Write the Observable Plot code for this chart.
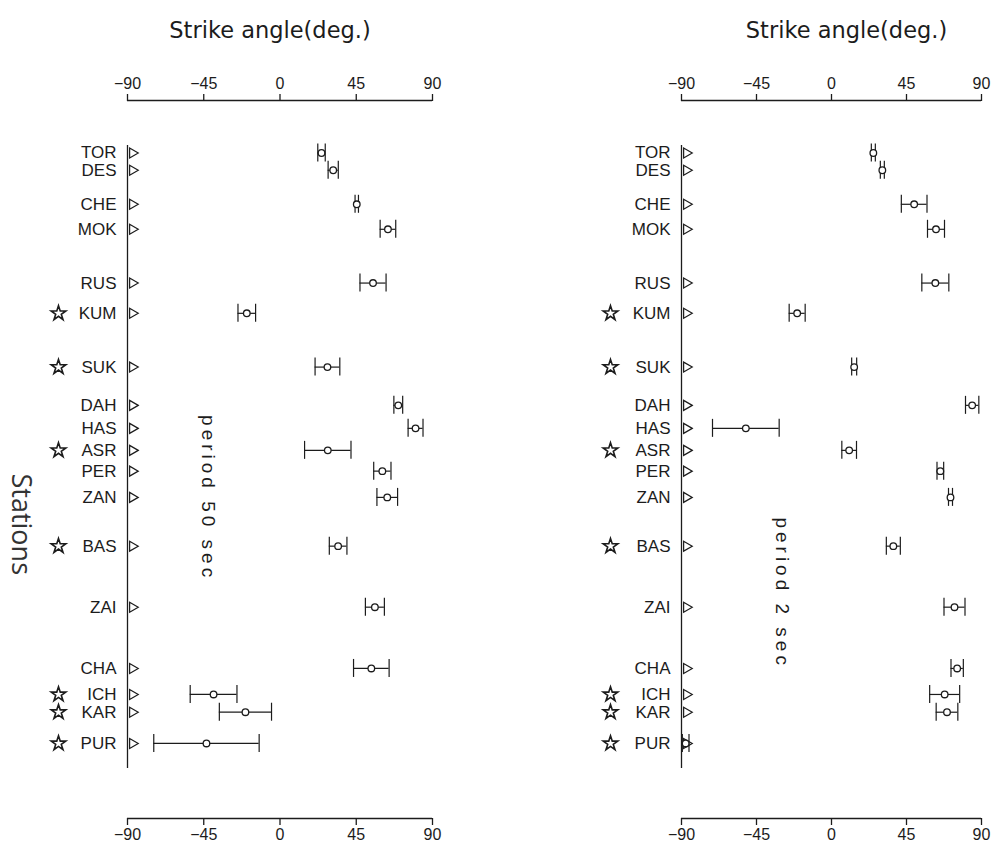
<!DOCTYPE html>
<html><head><meta charset="utf-8">
<script src="https://cdn.jsdelivr.net/npm/d3@7"></script>
<script src="https://cdn.jsdelivr.net/npm/@observablehq/plot@0.6"></script>
<style>
body{margin:0;background:#fff;}
#wrap{position:relative;width:995px;height:852px;background:#fff;}
#wrap > svg{position:absolute;top:0;}
</style></head><body><div id="wrap"></div>
<script>
// ---- data ----
const stations = ["TOR","DES","CHE","MOK","RUS","KUM","SUK","DAH","HAS","ASR","PER","ZAN","BAS","ZAI","CHA","ICH","KAR","PUR"];
// station ordering along the profile (relative units, with gaps between groups)
const stationRow = [0,0.69,2.05,3.05,5.2,6.41,8.56,10.09,11.01,11.89,12.72,13.77,15.72,18.16,20.61,21.65,22.36,23.61];
const starred = [false,false,false,false,false,true,true,false,false,true,false,false,true,false,false,true,true,true];
// period 50 sec: strike angle and half-width of error bar (deg.)
const strike50 = [24.5,31.4,45.3,63.7,54.9,-19.6,28.0,69.8,80.0,28.2,60.4,63.3,34.3,56.0,53.9,-39.2,-20.4,-43.4];
const err50    = [2.2,3.0,1.0,4.6,7.7,5.2,7.3,2.6,4.4,13.7,5.1,6.1,5.2,5.6,10.5,13.8,15.4,31.1];
// period 2 sec
const strike2 = [25.1,30.5,49.6,62.7,62.3,-20.6,13.6,84.4,-51.4,10.6,65.3,71.4,37.1,73.8,75.4,67.9,69.3,-87.5];
const err2    = [1.2,1.2,7.7,5.1,8.1,4.8,1.5,4.0,20.0,4.4,2.0,1.2,4.2,6.3,3.7,9.0,6.5,2.0];
const angleTicks = [-90,-45,0,45,90];
const axisTitle = "Strike angle(deg.)";
const sideTitle = "Stations";

const ink = "#1c1c1c";
const labelFont = "Liberation Sans, Arial, sans-serif";

function makeRows(values, errs) {
  return stations.map((s, i) => ({
    name: s, row: stationRow[i], star: starred[i],
    v: values[i], lo: values[i] - errs[i], hi: values[i] + errs[i]
  }));
}

const rowMin = d3.min(stationRow), rowMax = d3.max(stationRow);
const yDomain = [rowMin - 2.1, rowMax + 3.0];

function panel({data, width, marginLeft, marginRight, period, periodX, periodRow, titleDx, starDx, withSideTitle}) {
  const marks = [
    // top and bottom axis lines
    Plot.ruleY(yDomain, {x1: angleTicks[0], x2: angleTicks[angleTicks.length - 1], stroke: ink, strokeWidth: 1.3}),
    // vertical station axis
    Plot.ruleX([angleTicks[0]], {y1: rowMin - 0.3, y2: rowMax + 1.0, stroke: ink, strokeWidth: 1.3}),
    Plot.axisX({anchor: "top", ticks: angleTicks, tickSize: 7, tickPadding: 5, fontSize: 16,
      fontFamily: labelFont, label: null, stroke: ink, strokeWidth: 1.3, color: ink}),
    Plot.axisX({anchor: "bottom", ticks: angleTicks, tickSize: 7, tickPadding: 3, fontSize: 16,
      fontFamily: labelFont, label: null, stroke: ink, strokeWidth: 1.3, color: ink}),
    Plot.text([axisTitle], {frameAnchor: "top", dy: -78, dx: titleDx, fontSize: 22.5,
      fontFamily: "DejaVu Sans, sans-serif", fill: ink}),
    // station labels, stars, triangles
    Plot.text(data, {y: "row", frameAnchor: "left", text: "name", textAnchor: "end", dx: -11,
      fontSize: 17, fontFamily: labelFont, fill: ink}),
    Plot.dot(data.filter(d => d.star), {y: "row", frameAnchor: "left", symbol: "star", r: 4.6, dx: starDx,
      fill: "white", stroke: ink, strokeWidth: 1.6}),
    Plot.dot(data, {y: "row", frameAnchor: "left", symbol: "triangle", rotate: 90, r: 3.7, dx: 5,
      fill: "white", stroke: ink, strokeWidth: 1.2}),
    // error bars
    Plot.ruleY(data, {y: "row", x1: "lo", x2: "hi", stroke: ink, strokeWidth: 1.2}),
    Plot.ruleX(data, {x: "lo", y1: "row", y2: "row", insetTop: -9, insetBottom: -9, stroke: ink, strokeWidth: 1.2}),
    Plot.ruleX(data, {x: "hi", y1: "row", y2: "row", insetTop: -9, insetBottom: -9, stroke: ink, strokeWidth: 1.2}),
    Plot.dot(data, {x: "v", y: "row", r: 3.3, fill: "white", stroke: ink, strokeWidth: 1.3}),
    // period annotation
    Plot.text([period], {x: periodX, y: periodRow, rotate: 90, fontSize: 19, fontFamily: labelFont, fill: ink})
  ];
  if (withSideTitle) {
    marks.push(Plot.text([sideTitle], {frameAnchor: "left", dx: -107, dy: 14, rotate: 90, fontSize: 27,
      fontFamily: "Open Sans, sans-serif", fill: "#333"}));
  }
  const svg = Plot.plot({
    width, height: 852,
    marginLeft, marginRight, marginTop: 100, marginBottom: 34,
    style: {background: "white", overflow: "visible"},
    x: {domain: [angleTicks[0], angleTicks[angleTicks.length - 1]]},
    y: {domain: yDomain, axis: null, reverse: true},
    marks
  });
  d3.select(svg).selectAll("text")
    .filter(function() { return this.textContent.startsWith("period"); })
    .attr("letter-spacing", "4px");
  return svg;
}

const wrap = document.getElementById("wrap");
const left = panel({data: makeRows(strike50, err50), width: 497, marginLeft: 127, marginRight: 65,
  period: "period 50 sec", periodX: -42.2, periodRow: 13.8, titleDx: -10, starDx: -69, withSideTitle: true});
left.style.left = "0px";
const right = panel({data: makeRows(strike2, err2), width: 498, marginLeft: 184, marginRight: 14,
  period: "period 2 sec", periodX: -29.4, periodRow: 17.6, titleDx: 15, starDx: -71, withSideTitle: false});
right.style.left = "497px";
wrap.appendChild(left);
wrap.appendChild(right);
</script></body></html>
